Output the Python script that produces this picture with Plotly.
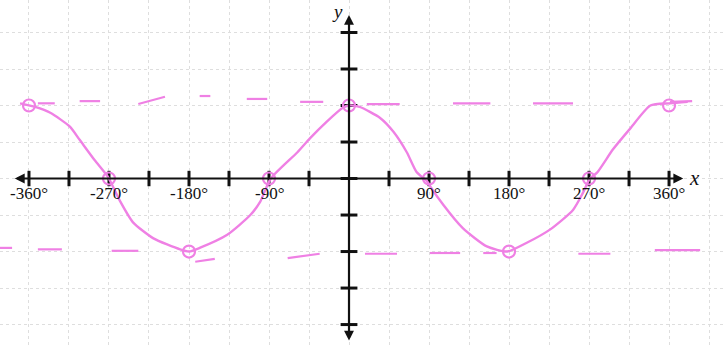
import plotly.graph_objects as go

# Hand-drawn cosine curve, sampled along the pen stroke (degrees, value)
curve_deg = [-370, -353, -336, -314, -303, -286, -271, -258, -243, -220, -190, -180,
             -168, -137, -111, -100, -88, -58, -44, -25, -7, 0, 12, 35, 50, 65, 76,
             88, 91, 106, 128, 155, 178, 200, 226, 252, 263, 271, 279, 297, 316,
             339, 361, 381]
curve_val = [1.03, 0.98, 0.90, 0.71, 0.53, 0.25, 0.02, -0.30, -0.60, -0.82, -0.97,
             -1.0, -0.95, -0.77, -0.50, -0.32, 0.0, 0.36, 0.55, 0.78, 0.97, 1.0,
             0.98, 0.83, 0.64, 0.36, 0.09, -0.04, -0.10, -0.36, -0.68, -0.93, -1.0,
             -0.88, -0.70, -0.43, -0.20, 0.0, 0.08, 0.40, 0.68, 1.00, 1.03, 1.05]

# Circled key points
key_deg = [-360, -270, -180, -90, 0, 90, 180, 270, 360]
key_val = [1, 0, -1, 0, 1, 0, -1, 0, 1]

# Hand-drawn dashed guide lines near y = 1 and y = -1: (x start, x end, y start, y end)
upper_dash = [(-350, -331, 1.03, 1.03), (-303, -280, 1.06, 1.06), (-237, -207, 1.02, 1.12),
              (-168, -156, 1.13, 1.13), (-115, -92, 1.09, 1.09), (-55, -29, 1.05, 1.05),
              (20, 57, 1.02, 1.02), (117, 159, 1.03, 1.03), (207, 252, 1.03, 1.03),
              (361, 386, 1.05, 1.06)]
lower_dash = [(-393, -379, -0.95, -0.95), (-350, -323, -0.97, -0.97), (-267, -237, -0.99, -0.99),
              (-173, -151, -1.14, -1.10), (-69, -33, -1.09, -1.03), (18, 54, -1.03, -1.03),
              (91, 125, -1.02, -1.02), (151, 166, -1.02, -1.02), (258, 294, -1.03, -1.03),
              (344, 395, -0.98, -0.98)]

# Axis ticks and labels
x_ticks = [-360, -315, -270, -225, -180, -135, -90, -45, 45, 90, 135, 180, 225, 270, 315, 360]
x_labels = ["-360°", "-270°", "-180°", "-90°", "90°", "180°", "270°", "360°"]
x_label_vals = [-360, -270, -180, -90, 90, 180, 270, 360]
y_ticks = [-2, -1.5, -1, -0.5, 0, 0.5, 1, 1.5, 2]

x_axis_ends = [-376, 376]
y_axis_ends = [-2.22, 2.24]

PINK = "#ef80e4"
INK = "#111111"
SERIF = "Liberation Serif, Times New Roman, serif"

fig = go.Figure()

def dash_trace(segs):
    xs, ys = [], []
    for x0, x1, y0, y1 in segs:
        xs += [x0, x1, None]
        ys += [y0, y1, None]
    return go.Scatter(x=xs, y=ys, mode="lines", line=dict(color=PINK, width=2.2),
                      hoverinfo="skip", showlegend=False)

fig.add_trace(dash_trace(upper_dash))
fig.add_trace(dash_trace(lower_dash))

# Axis lines with arrowheads at both ends
for end in x_axis_ends:
    fig.add_annotation(x=end, y=0, ax=0, ay=0, xref="x", yref="y", axref="x", ayref="y",
                       showarrow=True, arrowhead=2, arrowsize=0.9, arrowwidth=2.2,
                       arrowcolor=INK, text="")
for end in y_axis_ends:
    fig.add_annotation(x=0, y=end, ax=0, ay=0, xref="x", yref="y", axref="x", ayref="y",
                       showarrow=True, arrowhead=2, arrowsize=0.9, arrowwidth=2.2,
                       arrowcolor=INK, text="")

# Tick marks on the axes
fig.add_trace(go.Scatter(x=x_ticks, y=[0] * len(x_ticks), mode="markers",
                         marker=dict(symbol="line-ns-open", size=11, color=INK,
                                     line=dict(color=INK, width=3)),
                         hoverinfo="skip", showlegend=False))
fig.add_trace(go.Scatter(x=[0] * len(y_ticks), y=y_ticks, mode="markers",
                         marker=dict(symbol="line-ew-open", size=12, color=INK,
                                     line=dict(color=INK, width=3)),
                         hoverinfo="skip", showlegend=False))

# The curve and its circled points
fig.add_trace(go.Scatter(x=curve_deg, y=curve_val, mode="lines",
                         line=dict(color=PINK, width=2.4, shape="spline", smoothing=0.6),
                         hoverinfo="skip", showlegend=False))
fig.add_trace(go.Scatter(x=key_deg, y=key_val, mode="markers",
                         marker=dict(symbol="circle-open", size=12, color=PINK,
                                     line=dict(color=PINK, width=2.2)),
                         hoverinfo="skip", showlegend=False))

for v, t in zip(x_label_vals, x_labels):
    fig.add_annotation(x=v, y=0, text=t, showarrow=False, yshift=-15,
                       font=dict(family=SERIF, size=17, color=INK))

fig.add_annotation(x=x_axis_ends[1], y=0, text="<i>x</i>", showarrow=False,
                   xanchor="left", xshift=4, yshift=1,
                   font=dict(family=SERIF, size=21, color=INK))
fig.add_annotation(x=0, y=y_axis_ends[1], text="<i>y</i>", showarrow=False,
                   xanchor="right", xshift=-4, yshift=3,
                   font=dict(family=SERIF, size=19, color=INK))

fig.update_layout(
    width=723, height=345,
    margin=dict(l=0, r=0, t=0, b=0),
    paper_bgcolor="white", plot_bgcolor="white",
    xaxis=dict(range=[-392.6, 420.7], tick0=0, dtick=45, showgrid=True,
               gridcolor="#dedede", griddash="dot", gridwidth=1,
               zeroline=False, showticklabels=False, ticks=""),
    yaxis=dict(range=[-2.28, 2.445], tick0=0, dtick=0.5, showgrid=True,
               gridcolor="#dedede", griddash="dot", gridwidth=1,
               zeroline=False, showticklabels=False, ticks=""),
)

fig.write_html("out.html")
